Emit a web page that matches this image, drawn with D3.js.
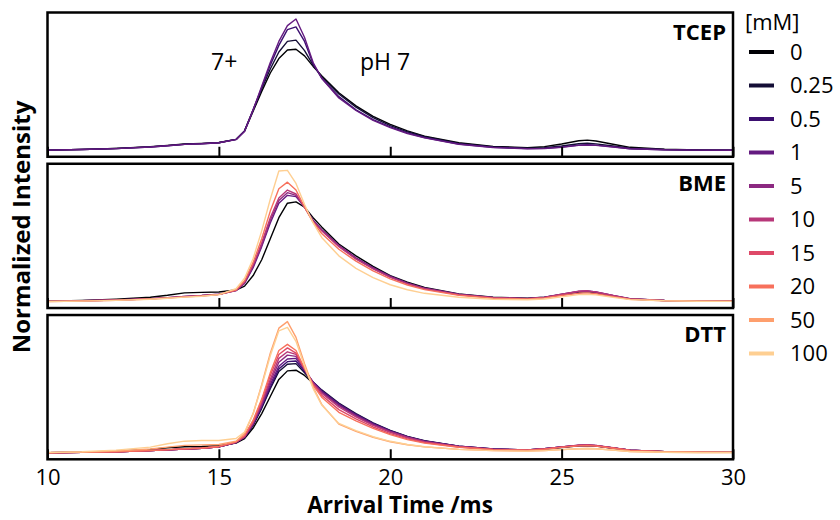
<!DOCTYPE html>
<html>
<head>
<meta charset="utf-8">
<script src="https://cdn.jsdelivr.net/npm/d3@7"></script>
<style>
  html, body { margin: 0; padding: 0; background: #fff; }
  svg { display: block; font-family: "Open Sans", "DejaVu Sans", sans-serif; }
</style>
</head>
<body>
<svg id="chart" width="840" height="520"></svg>
<script>
// ---------------- DATA ----------------
const times = [10, 11, 12, 13, 13.5, 14, 14.5, 15, 15.5, 15.75, 16, 16.25, 16.5, 16.75, 17, 17.25, 17.5, 17.75, 18, 18.5, 19, 19.5, 20, 20.5, 21, 22, 23, 24, 24.5, 25, 25.5, 25.75, 26, 26.5, 27, 28, 29, 30];

const concentrations = ["0", "0.25", "0.5", "1", "5", "10", "15", "20", "50", "100"];
const legendTitle = "[mM]";
const panelNames = ["TCEP", "BME", "DTT"];
const xTicks = [10, 15, 20, 25, 30];
const xTitle = "Arrival Time /ms";
const yTitle = "Normalized Intensity";
const annotations = ["7+", "pH 7"];

// TCEP
const TCEP_0   = [0.004,0.009,0.017,0.03,0.04,0.05,0.055,0.062,0.085,0.15,0.30,0.45,0.59,0.70,0.765,0.77,0.72,0.64,0.57,0.44,0.34,0.26,0.20,0.15,0.11,0.06,0.032,0.022,0.03,0.05,0.075,0.08,0.073,0.048,0.025,0.01,0.005,0.004];
const TCEP_025 = [0.004,0.008,0.016,0.028,0.038,0.048,0.053,0.06,0.085,0.15,0.31,0.47,0.62,0.75,0.83,0.84,0.76,0.65,0.56,0.43,0.33,0.25,0.19,0.143,0.105,0.055,0.028,0.018,0.022,0.035,0.052,0.056,0.051,0.035,0.018,0.008,0.004,0.003];
const TCEP_05  = [0.004,0.008,0.015,0.027,0.037,0.047,0.052,0.06,0.085,0.15,0.31,0.48,0.65,0.80,0.92,0.94,0.83,0.66,0.55,0.41,0.31,0.235,0.18,0.135,0.10,0.05,0.025,0.015,0.017,0.027,0.042,0.045,0.042,0.028,0.014,0.006,0.004,0.003];
const TCEP_1   = [0.004,0.008,0.015,0.027,0.037,0.047,0.052,0.06,0.083,0.145,0.31,0.49,0.67,0.83,0.95,1.0,0.86,0.67,0.55,0.40,0.305,0.23,0.175,0.13,0.097,0.048,0.024,0.014,0.016,0.025,0.04,0.043,0.04,0.027,0.014,0.006,0.004,0.003];

// BME
const BME_0   = [0.005,0.01,0.02,0.035,0.05,0.068,0.072,0.075,0.09,0.12,0.2,0.32,0.48,0.64,0.75,0.76,0.72,0.64,0.57,0.44,0.35,0.27,0.2,0.15,0.11,0.06,0.035,0.028,0.035,0.055,0.075,0.078,0.07,0.045,0.022,0.01,0.007,0.006];
const BME_1   = [0.004,0.008,0.014,0.024,0.032,0.042,0.048,0.058,0.085,0.14,0.26,0.42,0.60,0.75,0.81,0.80,0.72,0.62,0.55,0.43,0.335,0.26,0.195,0.145,0.105,0.058,0.033,0.026,0.035,0.058,0.08,0.083,0.075,0.048,0.024,0.01,0.007,0.006];
const BME_5   = [0.004,0.008,0.014,0.024,0.032,0.042,0.048,0.058,0.086,0.145,0.27,0.43,0.62,0.77,0.83,0.81,0.72,0.615,0.545,0.425,0.33,0.255,0.19,0.14,0.102,0.056,0.032,0.025,0.034,0.057,0.079,0.082,0.074,0.047,0.023,0.01,0.007,0.006];
const BME_10  = [0.004,0.008,0.013,0.023,0.03,0.04,0.046,0.057,0.087,0.15,0.28,0.45,0.64,0.79,0.85,0.82,0.72,0.61,0.54,0.42,0.325,0.25,0.186,0.137,0.1,0.054,0.031,0.025,0.034,0.058,0.081,0.084,0.076,0.048,0.023,0.01,0.007,0.006];
const BME_20  = [0.003,0.007,0.012,0.022,0.029,0.038,0.045,0.056,0.09,0.16,0.3,0.48,0.69,0.86,0.91,0.85,0.72,0.605,0.52,0.40,0.31,0.235,0.175,0.128,0.093,0.05,0.028,0.022,0.03,0.048,0.065,0.068,0.062,0.04,0.02,0.009,0.006,0.005];
const BME_100 = [0.003,0.006,0.011,0.02,0.027,0.036,0.043,0.055,0.1,0.18,0.33,0.54,0.78,0.995,1.0,0.9,0.74,0.6,0.49,0.35,0.255,0.185,0.13,0.092,0.065,0.035,0.02,0.016,0.022,0.038,0.055,0.058,0.053,0.034,0.017,0.008,0.005,0.004];

// DTT
const DTT_0   = [0.003,0.007,0.014,0.028,0.04,0.048,0.05,0.055,0.075,0.11,0.19,0.30,0.43,0.56,0.625,0.63,0.59,0.53,0.47,0.37,0.29,0.22,0.165,0.122,0.09,0.05,0.028,0.022,0.028,0.042,0.055,0.057,0.052,0.036,0.02,0.009,0.006,0.005];
const DTT_025 = [0.002,0.005,0.01,0.018,0.024,0.03,0.036,0.048,0.08,0.12,0.21,0.34,0.49,0.62,0.675,0.68,0.61,0.54,0.48,0.38,0.30,0.23,0.172,0.127,0.093,0.052,0.03,0.024,0.032,0.045,0.056,0.058,0.054,0.038,0.021,0.01,0.006,0.005];
const DTT_05  = [0.002,0.005,0.01,0.018,0.024,0.03,0.036,0.048,0.08,0.12,0.215,0.35,0.50,0.64,0.695,0.70,0.62,0.54,0.475,0.375,0.295,0.226,0.17,0.125,0.092,0.052,0.03,0.024,0.032,0.046,0.057,0.059,0.055,0.038,0.021,0.01,0.006,0.005];
const DTT_1   = [0.002,0.005,0.01,0.018,0.024,0.03,0.036,0.048,0.08,0.12,0.22,0.36,0.52,0.66,0.715,0.72,0.63,0.54,0.47,0.37,0.29,0.222,0.167,0.123,0.09,0.051,0.03,0.024,0.032,0.047,0.058,0.06,0.056,0.039,0.021,0.01,0.006,0.005];
const DTT_5   = [0.002,0.005,0.01,0.018,0.024,0.03,0.036,0.048,0.08,0.12,0.225,0.37,0.54,0.69,0.745,0.735,0.64,0.535,0.46,0.36,0.283,0.216,0.163,0.12,0.088,0.05,0.029,0.024,0.032,0.047,0.059,0.061,0.057,0.039,0.021,0.01,0.006,0.005];
const DTT_10  = [0.002,0.005,0.01,0.018,0.024,0.03,0.036,0.048,0.082,0.125,0.23,0.38,0.56,0.72,0.77,0.75,0.64,0.53,0.455,0.35,0.275,0.21,0.158,0.116,0.085,0.048,0.028,0.023,0.031,0.047,0.06,0.062,0.058,0.04,0.021,0.01,0.006,0.005];
const DTT_15  = [0.002,0.005,0.01,0.018,0.024,0.03,0.036,0.048,0.084,0.13,0.24,0.40,0.59,0.75,0.80,0.76,0.64,0.52,0.44,0.33,0.26,0.198,0.148,0.108,0.08,0.046,0.027,0.022,0.03,0.045,0.057,0.059,0.055,0.038,0.02,0.009,0.006,0.005];
const DTT_20  = [0.002,0.005,0.01,0.019,0.026,0.033,0.038,0.05,0.086,0.135,0.25,0.41,0.61,0.78,0.827,0.78,0.645,0.515,0.425,0.31,0.245,0.187,0.14,0.102,0.075,0.044,0.026,0.021,0.029,0.043,0.054,0.056,0.052,0.036,0.019,0.009,0.006,0.005];
const DTT_50  = [0.003,0.007,0.015,0.03,0.045,0.058,0.062,0.065,0.09,0.15,0.30,0.52,0.76,0.95,1.0,0.88,0.68,0.50,0.37,0.22,0.165,0.12,0.086,0.063,0.047,0.028,0.018,0.014,0.018,0.026,0.032,0.034,0.032,0.022,0.012,0.006,0.004,0.004];
const DTT_100 = [0.004,0.01,0.022,0.045,0.07,0.09,0.095,0.095,0.11,0.16,0.30,0.51,0.74,0.93,0.956,0.85,0.66,0.49,0.365,0.225,0.17,0.124,0.089,0.065,0.048,0.028,0.018,0.014,0.018,0.026,0.032,0.034,0.032,0.022,0.012,0.006,0.004,0.004];

// Table built from the named arrays above
const panelSeries = [
  [["0", TCEP_0], ["0.25", TCEP_025], ["0.5", TCEP_05], ["1", TCEP_1]],
  [["0", BME_0], ["1", BME_1], ["5", BME_5], ["10", BME_10], ["20", BME_20], ["100", BME_100]],
  [["0", DTT_0], ["0.25", DTT_025], ["0.5", DTT_05], ["1", DTT_1], ["5", DTT_5], ["10", DTT_10], ["15", DTT_15], ["20", DTT_20], ["50", DTT_50], ["100", DTT_100]]
];

// ---------------- LAYOUT ----------------
const svg = d3.select("#chart");
const left = 47.5, right = 733;
const top0 = 12.5, bottomAll = 459.3, gap = 7;
const panelH = (bottomAll - top0 - 2 * gap) / 3;
const FONT = '"Open Sans", "DejaVu Sans", sans-serif';

const x = d3.scaleLinear().domain([10, 30]).range([left, right]);
const color = d3.scaleOrdinal()
  .domain(concentrations)
  .range(concentrations.map((c, i) => d3.interpolateMagma(i / 10)));

panelSeries.forEach((series, p) => {
  const top = top0 + p * (panelH + gap);
  const bot = top + panelH;
  const allVals = series.flatMap(s => s[1]);
  const lo = d3.min(allVals), hi = d3.max(allVals);
  const pad = 0.05 * (hi - lo);
  const y = d3.scaleLinear().domain([lo - pad, hi + pad]).range([bot, top]);

  const g = svg.append("g");
  const line = d3.line().x((d, i) => x(times[i])).y(d => y(d));

  g.selectAll("path.series")
    .data(series)
    .join("path")
    .attr("class", "series")
    .attr("fill", "none")
    .attr("stroke", d => color(d[0]))
    .attr("stroke-width", 1.4)
    .attr("stroke-linejoin", "round")
    .attr("d", d => line(d[1]));

  // inner ticks
  const axis = d3.axisBottom(x).tickValues(xTicks).tickSize(-10).tickPadding(10);
  if (p < 2) axis.tickFormat("");
  const ax = g.append("g").attr("transform", `translate(0,${bot})`).call(axis);
  ax.select(".domain").remove();
  ax.selectAll(".tick line").attr("stroke", "#000").attr("stroke-width", 2);
  ax.selectAll(".tick text")
    .attr("fill", "#000")
    .style("font-family", FONT)
    .style("font-size", "22px");

  // frame
  g.append("rect")
    .attr("x", left).attr("y", top)
    .attr("width", right - left).attr("height", panelH)
    .attr("fill", "none").attr("stroke", "#000").attr("stroke-width", 2.5);

  // panel label
  g.append("text")
    .attr("x", 726).attr("y", top + 27)
    .attr("text-anchor", "end")
    .style("font-family", FONT).style("font-size", "22px").style("font-weight", "bold")
    .text(panelNames[p]);
});

// annotations in top panel
svg.append("text").attr("x", 211).attr("y", 70)
  .style("font-family", FONT).style("font-size", "23px").text(annotations[0]);
svg.append("text").attr("x", 360).attr("y", 70)
  .style("font-family", FONT).style("font-size", "23px").text(annotations[1]);

// axis titles
svg.append("text").attr("x", 400).attr("y", 513)
  .attr("text-anchor", "middle")
  .style("font-family", FONT).style("font-size", "22.5px").style("font-weight", "bold")
  .text(xTitle);
svg.append("text")
  .attr("transform", "translate(30,227) rotate(-90)")
  .attr("text-anchor", "middle")
  .style("font-family", FONT).style("font-size", "24px").style("font-weight", "bold")
  .text(yTitle);

// legend
const lg = svg.append("g");
lg.append("text").attr("x", 745).attr("y", 30)
  .style("font-family", FONT).style("font-size", "22px").text(legendTitle);
const rows = lg.selectAll("g.row").data(concentrations).join("g")
  .attr("class", "row")
  .attr("transform", (d, i) => `translate(0,${52 + i * 33.5})`);
rows.append("line")
  .attr("x1", 749).attr("x2", 774).attr("y1", 0).attr("y2", 0)
  .attr("stroke", d => color(d)).attr("stroke-width", 4);
rows.append("text")
  .attr("x", 790).attr("y", 0).attr("dy", "0.36em")
  .style("font-family", FONT).style("font-size", "22px")
  .text(d => d);
</script>
</body>
</html>
